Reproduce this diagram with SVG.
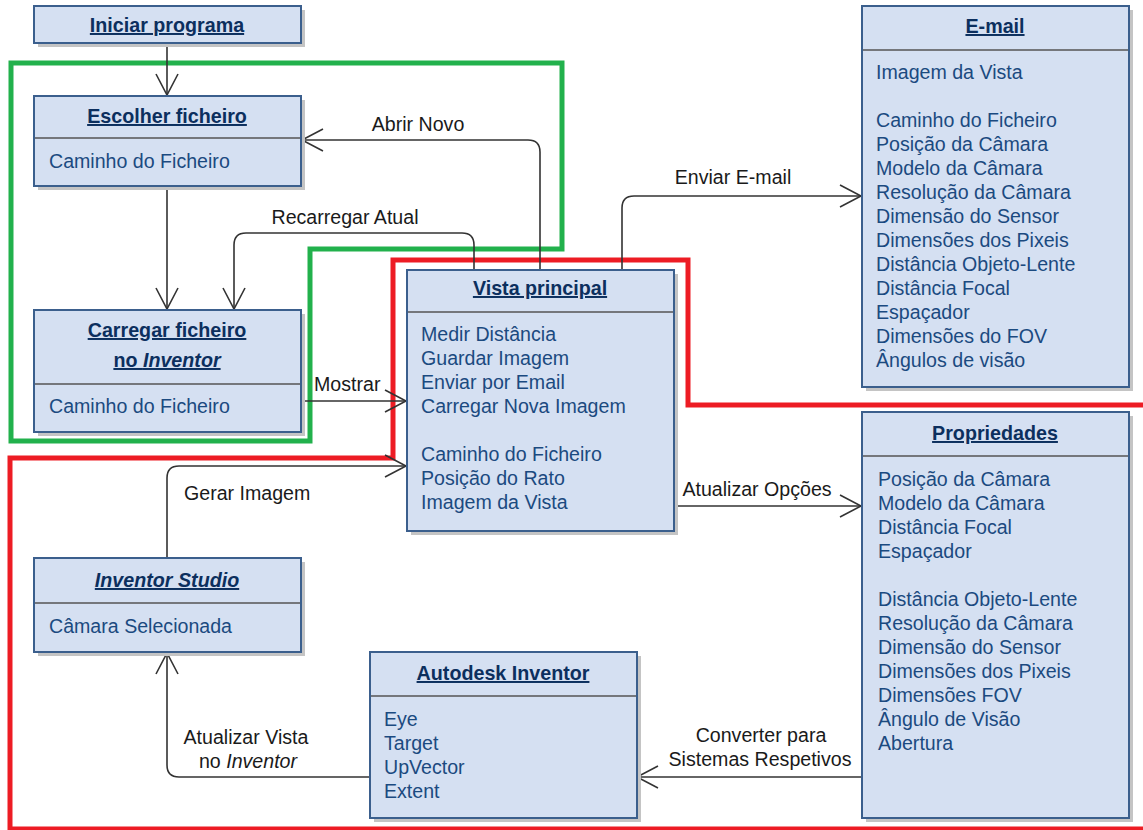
<svg xmlns="http://www.w3.org/2000/svg" width="1143" height="830" viewBox="0 0 1143 830">
<style>
.sh{fill:#c4c4c4}
.bx{fill:#d5e0f2;stroke:#3b5f8d;stroke-width:2}
.dv{stroke:#555;stroke-width:1.5}
.tt{font-family:"Liberation Sans",Arial,sans-serif;font-size:19.7px;font-weight:bold;fill:#0c2f5e;text-decoration:underline;text-anchor:middle}
.it{font-family:"Liberation Sans",Arial,sans-serif;font-size:19.6px;fill:#1b4a80}
.lb{font-family:"Liberation Sans",Arial,sans-serif;font-size:19.6px;fill:#1a1a1a}
.cn{fill:none;stroke:#333;stroke-width:1.6}
.ol{fill:none;stroke-width:5}
</style>
<defs>
<marker id="ah" markerUnits="userSpaceOnUse" viewBox="0 0 24 24" refX="22" refY="12" markerWidth="24" markerHeight="24" orient="auto">
<path d="M1,1 L22,12 L1,23" fill="none" stroke="#333" stroke-width="1.6"/>
</marker>
</defs>
<rect width="1143" height="830" fill="#fff"/>
<g id="outlines">
<path class="ol" stroke="#22b14c" d="M11,63 H562 V249 H310 V441 H11 Z"/>
<path class="ol" stroke="#ed1c24" d="M1145,405 H688 V260 H393 V458 H10 V829 H1145"/>
</g>
<g id="connectors">
<path class="cn" marker-end="url(#ah)" d="M167,43 V95"/>
<path class="cn" marker-end="url(#ah)" d="M167,186 V309"/>
<path class="cn" marker-end="url(#ah)" d="M540,269 V152 Q540,140 528,140 H302"/>
<path class="cn" marker-end="url(#ah)" d="M474,269 V245 Q474,233 462,233 H246 Q234,233 234,245 V309"/>
<path class="cn" marker-end="url(#ah)" d="M302,401 H406"/>
<path class="cn" marker-end="url(#ah)" d="M167,558 V478 Q167,466 179,466 H406"/>
<path class="cn" marker-end="url(#ah)" d="M622,269 V208 Q622,196 634,196 H861"/>
<path class="cn" marker-end="url(#ah)" d="M674,506 H861"/>
<path class="cn" marker-end="url(#ah)" d="M862,777 H637"/>
<path class="cn" marker-end="url(#ah)" d="M369,777 H179 Q167,777 167,765 V653"/>
<text class="lb" x="418" y="131" text-anchor="middle">Abrir Novo</text>
<text class="lb" x="345" y="224" text-anchor="middle">Recarregar Atual</text>
<text class="lb" x="314" y="391">Mostrar</text>
<text class="lb" x="733" y="184" text-anchor="middle">Enviar E-mail</text>
<text class="lb" x="184" y="500">Gerar Imagem</text>
<text class="lb" x="757" y="496" text-anchor="middle">Atualizar Opções</text>
<text class="lb" x="761" y="742" text-anchor="middle">Converter para</text>
<text class="lb" x="760" y="766" text-anchor="middle">Sistemas Respetivos</text>
<text class="lb" x="246" y="744" text-anchor="middle">Atualizar Vista</text>
<text class="lb" x="248" y="768" text-anchor="middle">no <tspan font-style="italic">Inventor</tspan></text>
</g>
<g id="iniciar">
<rect class="sh" x="38" y="10" width="267" height="37"/>
<rect class="bx" x="34" y="6" width="267" height="37"/>
<text class="tt" x="167" y="32">Iniciar programa</text>
</g>
<g id="escolher">
<rect class="sh" x="38" y="100" width="267" height="90"/>
<rect class="bx" x="34" y="96" width="267" height="90"/>
<line class="dv" x1="35" y1="138" x2="300" y2="138"/>
<text class="tt" x="167" y="123">Escolher ficheiro</text>
<text class="it" x="49" y="168">Caminho do Ficheiro</text>
</g>
<g id="carregar">
<rect class="sh" x="38" y="314" width="267" height="122"/>
<rect class="bx" x="34" y="310" width="267" height="122"/>
<line class="dv" x1="35" y1="384" x2="300" y2="384"/>
<text class="tt" x="167" y="337">Carregar ficheiro</text>
<text class="tt" x="167" y="367">no <tspan font-style="italic">Inventor</tspan></text>
<text class="it" x="49" y="413">Caminho do Ficheiro</text>
</g>
<g id="vista">
<rect class="sh" x="411" y="274" width="267" height="261"/>
<rect class="bx" x="407" y="270" width="267" height="261"/>
<line class="dv" x1="408" y1="312" x2="673" y2="312"/>
<text class="tt" x="540" y="295">Vista principal</text>
<text class="it" x="421" y="341">Medir Distância</text>
<text class="it" x="421" y="365">Guardar Imagem</text>
<text class="it" x="421" y="389">Enviar por Email</text>
<text class="it" x="421" y="413">Carregar Nova Imagem</text>
<text class="it" x="421" y="461">Caminho do Ficheiro</text>
<text class="it" x="421" y="485">Posição do Rato</text>
<text class="it" x="421" y="509">Imagem da Vista</text>
</g>
<g id="email">
<rect class="sh" x="866" y="10" width="267" height="381"/>
<rect class="bx" x="862" y="6" width="267" height="381"/>
<line class="dv" x1="863" y1="50" x2="1128" y2="50"/>
<text class="tt" x="995" y="33">E-mail</text>
<text class="it" x="876" y="79">Imagem da Vista</text>
<text class="it" x="876" y="127">Caminho do Ficheiro</text>
<text class="it" x="876" y="151">Posição da Câmara</text>
<text class="it" x="876" y="175">Modelo da Câmara</text>
<text class="it" x="876" y="199">Resolução da Câmara</text>
<text class="it" x="876" y="223">Dimensão do Sensor</text>
<text class="it" x="876" y="247">Dimensões dos Pixeis</text>
<text class="it" x="876" y="271">Distância Objeto-Lente</text>
<text class="it" x="876" y="295">Distância Focal</text>
<text class="it" x="876" y="319">Espaçador</text>
<text class="it" x="876" y="343">Dimensões do FOV</text>
<text class="it" x="876" y="367">Ângulos de visão</text>
</g>
<g id="propriedades">
<rect class="sh" x="866" y="416" width="267" height="406"/>
<rect class="bx" x="862" y="412" width="267" height="406"/>
<line class="dv" x1="863" y1="456" x2="1128" y2="456"/>
<text class="tt" x="995" y="440">Propriedades</text>
<text class="it" x="878" y="486">Posição da Câmara</text>
<text class="it" x="878" y="510">Modelo da Câmara</text>
<text class="it" x="878" y="534">Distância Focal</text>
<text class="it" x="878" y="558">Espaçador</text>
<text class="it" x="878" y="606">Distância Objeto-Lente</text>
<text class="it" x="878" y="630">Resolução da Câmara</text>
<text class="it" x="878" y="654">Dimensão do Sensor</text>
<text class="it" x="878" y="678">Dimensões dos Pixeis</text>
<text class="it" x="878" y="702">Dimensões FOV</text>
<text class="it" x="878" y="726">Ângulo de Visão</text>
<text class="it" x="878" y="750">Abertura</text>
</g>
<g id="studio">
<rect class="sh" x="38" y="562" width="267" height="94"/>
<rect class="bx" x="34" y="558" width="267" height="94"/>
<line class="dv" x1="35" y1="603" x2="300" y2="603"/>
<text class="tt" x="167" y="587" font-style="italic">Inventor Studio</text>
<text class="it" x="49" y="633">Câmara Selecionada</text>
</g>
<g id="autodesk">
<rect class="sh" x="374" y="656" width="267" height="166"/>
<rect class="bx" x="370" y="652" width="267" height="166"/>
<line class="dv" x1="371" y1="696" x2="636" y2="696"/>
<text class="tt" x="503" y="680">Autodesk Inventor</text>
<text class="it" x="384" y="726">Eye</text>
<text class="it" x="384" y="750">Target</text>
<text class="it" x="384" y="774">UpVector</text>
<text class="it" x="384" y="798">Extent</text>
</g>
</svg>
